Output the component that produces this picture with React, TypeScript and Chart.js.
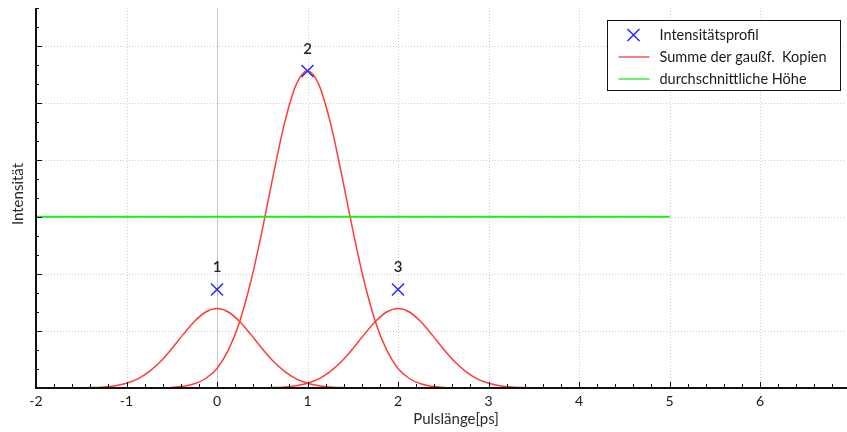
import { useEffect, useRef } from 'react';
import { Chart, registerables } from 'chart.js';
Chart.register(...registerables);

const xTickValues = [-2, -1, 0, 1, 2, 3, 4, 5, 6];
const yMajorValues = [0, 3, 6, 9, 12, 15, 18];
const profileX = [0, 1, 2];
const profileY = [5.18, 16.68, 5.18];
const profileNames = ['1', '2', '3'];
const pulseCenters = [0, 1, 2];
const pulseOffsets = [-1.75, -1.625, -1.5, -1.375, -1.25, -1.125, -1, -0.875, -0.75, -0.625, -0.5, -0.375, -0.25, -0.125, 0,
  0.125, 0.25, 0.375, 0.5, 0.625, 0.75, 0.875, 1, 1.125, 1.25, 1.375, 1.5, 1.625, 1.75];
const pulse1Y = [0, 0, 0.01, 0.02, 0.05, 0.12, 0.25, 0.48, 0.86, 1.39, 2.07, 2.81, 3.5, 4.0, 4.18,
  4.0, 3.5, 2.81, 2.07, 1.39, 0.86, 0.48, 0.25, 0.12, 0.05, 0.02, 0.01, 0, 0];
const pulse2Y = [0, 0.01, 0.03, 0.09, 0.22, 0.5, 1.03, 1.99, 3.49, 5.63, 8.32, 11.28, 14.02, 15.97, 16.68,
  15.97, 14.02, 11.28, 8.32, 5.63, 3.49, 1.99, 1.03, 0.5, 0.22, 0.09, 0.03, 0.01, 0];
const pulse3Y = [0, 0, 0.01, 0.02, 0.05, 0.12, 0.25, 0.48, 0.86, 1.39, 2.07, 2.81, 3.5, 4.0, 4.18,
  4.0, 3.5, 2.81, 2.07, 1.39, 0.86, 0.48, 0.25, 0.12, 0.05, 0.02, 0.01, 0, 0];
const averageX = [-2, 5];
const averageY = [9.01, 9.01];
const legendLabels = ['Intensitätsprofil', 'Summe der gaußf.  Kopien', 'durchschnittliche Höhe'];
const xAxisTitle = 'Pulslänge[ps]';
const yAxisTitle = 'Intensität';

const FONT = 'Lato, "Open Sans", sans-serif';
const BLUE = 'rgb(40,40,255)';
const RED = 'rgb(255,60,60)';
const GREEN = 'rgb(30,235,30)';

const decor = {
  id: 'decor',
  beforeDatasetsDraw(chart: any) {
    const { ctx, chartArea: a, scales } = chart;
    const x = scales.x, y = scales.y;
    ctx.save();
    ctx.lineWidth = 1;
    ctx.strokeStyle = '#cdcdcd';
    ctx.setLineDash([1, 2]);
    for (const v of xTickValues) {
      if (v === -2 || v === 0) continue;
      const px = Math.round(x.getPixelForValue(v)) + 0.5;
      ctx.beginPath(); ctx.moveTo(px, a.top); ctx.lineTo(px, a.bottom); ctx.stroke();
    }
    for (const v of yMajorValues) {
      if (v === 0) continue;
      const py = Math.round(y.getPixelForValue(v)) + 0.5;
      ctx.beginPath(); ctx.moveTo(a.left, py); ctx.lineTo(a.right, py); ctx.stroke();
    }
    ctx.setLineDash([]);
    ctx.strokeStyle = '#c6c6c6';
    const zx = Math.round(x.getPixelForValue(0)) + 0.5;
    ctx.beginPath(); ctx.moveTo(zx, a.top); ctx.lineTo(zx, a.bottom); ctx.stroke();
    ctx.restore();
  },
  afterDatasetsDraw(chart: any) {
    const { ctx, chartArea: a, scales } = chart;
    const x = scales.x, y = scales.y;
    ctx.save();
    // axes
    ctx.strokeStyle = '#111';
    ctx.lineWidth = 2;
    ctx.beginPath();
    ctx.moveTo(a.left, a.top); ctx.lineTo(a.left, a.bottom); ctx.lineTo(a.right + 1, a.bottom);
    ctx.stroke();
    // ticks
    ctx.lineWidth = 1;
    for (let i = 0; ; i++) {
      const v = x.min + i * 0.2;
      if (v > x.max + 1e-6) break;
      const major = i % 5 === 0;
      const px = Math.round(x.getPixelForValue(v)) + 0.5;
      ctx.beginPath(); ctx.moveTo(px, a.bottom); ctx.lineTo(px, a.bottom - (major ? 6 : 4)); ctx.stroke();
    }
    for (let v = y.min; v <= y.max; v++) {
      const major = v % 3 === 0;
      const py = Math.round(y.getPixelForValue(v)) + 0.5;
      ctx.beginPath(); ctx.moveTo(a.left, py); ctx.lineTo(a.left + (major ? 6 : 3), py); ctx.stroke();
    }
    // x tick labels
    ctx.fillStyle = '#1a1a1a';
    ctx.font = `14px ${FONT}`;
    ctx.textAlign = 'center';
    ctx.textBaseline = 'middle';
    for (const v of xTickValues) ctx.fillText(String(v), x.getPixelForValue(v), a.bottom + 13);
    // point labels
    ctx.fillStyle = '#222';
    ctx.font = `600 15px ${FONT}`;
    profileX.forEach((v, i) => {
      ctx.fillText(profileNames[i], x.getPixelForValue(v), y.getPixelForValue(profileY[i]) - 22);
    });
    // legend
    const bx = Math.round(a.right - 239) + 0.5, by = Math.round(a.top + 12) + 0.5, bw = 233, bh = 70;
    ctx.fillStyle = '#fff';
    ctx.fillRect(bx, by, bw, bh);
    ctx.strokeStyle = '#111';
    ctx.lineWidth = 1;
    ctx.strokeRect(bx, by, bw, bh);
    const rows = [by + 14.5, by + 36.5, by + 58.5];
    ctx.strokeStyle = BLUE; ctx.lineWidth = 1.5;
    const mx = bx + 26, my = rows[0];
    ctx.beginPath();
    ctx.moveTo(mx - 6, my - 6); ctx.lineTo(mx + 6, my + 6);
    ctx.moveTo(mx + 6, my - 6); ctx.lineTo(mx - 6, my + 6);
    ctx.stroke();
    ctx.lineWidth = 1.3;
    ctx.strokeStyle = RED;
    ctx.beginPath(); ctx.moveTo(bx + 11, rows[1]); ctx.lineTo(bx + 42, rows[1]); ctx.stroke();
    ctx.strokeStyle = GREEN;
    ctx.beginPath(); ctx.moveTo(bx + 11, rows[2]); ctx.lineTo(bx + 42, rows[2]); ctx.stroke();
    ctx.fillStyle = '#1a1a1a';
    ctx.font = `14.5px ${FONT}`;
    ctx.textAlign = 'left';
    legendLabels.forEach((t, i) => ctx.fillText(t, bx + 52, rows[i]));
    // titles
    ctx.fillStyle = '#2a2a2a';
    ctx.font = `15px ${FONT}`;
    ctx.textAlign = 'center';
    ctx.fillText(xAxisTitle, (a.left + a.right) / 2 + 15, a.bottom + 31);
    ctx.translate(18, (a.top + a.bottom) / 2 - 4);
    ctx.rotate(-Math.PI / 2);
    ctx.fillText(yAxisTitle, 0, 0);
    ctx.restore();
  },
};

export default function App() {
  const ref = useRef<HTMLCanvasElement>(null);
  useEffect(() => {
    if (!ref.current) return;
    const pulseData = (ys: number[], c: number) => pulseOffsets.map((o, i) => ({ x: c + o, y: ys[i] }));
    const pulseStyle = {
      borderColor: RED, borderWidth: 1.5, pointRadius: 0, fill: false,
      cubicInterpolationMode: 'monotone' as const, showLine: true,
    };
    const chart = new Chart(ref.current, {
      type: 'scatter',
      data: {
        datasets: [
          {
            label: legendLabels[0],
            data: profileX.map((v, i) => ({ x: v, y: profileY[i] })),
            pointStyle: 'crossRot', pointRadius: 8.5, borderColor: BLUE, backgroundColor: BLUE,
            pointBorderWidth: 1.5, showLine: false, order: 0,
          },
          { label: legendLabels[1], data: pulseData(pulse1Y, pulseCenters[0]), ...pulseStyle, order: 2 },
          { label: legendLabels[1], data: pulseData(pulse2Y, pulseCenters[1]), ...pulseStyle, order: 2 },
          { label: legendLabels[1], data: pulseData(pulse3Y, pulseCenters[2]), ...pulseStyle, order: 2 },
          {
            label: legendLabels[2],
            data: averageX.map((v, i) => ({ x: v, y: averageY[i] })),
            borderColor: GREEN, borderWidth: 2, pointRadius: 0, showLine: true, order: 1,
          },
        ],
      },
      options: {
        responsive: false,
        animation: false,
        layout: { autoPadding: false, padding: { top: 8, right: 1, left: 0, bottom: 0 } },
        plugins: { legend: { display: false }, tooltip: { enabled: false } },
        scales: {
          x: {
            type: 'linear', min: -2, max: 6.95,
            afterBuildTicks: (s: any) => { s.ticks = xTickValues.map((v) => ({ value: v })); },
            afterFit: (s: any) => { s.height = 44; },
            grid: { display: false, drawTicks: false },
            border: { display: false },
            ticks: { display: false },
          },
          y: {
            type: 'linear', min: 0, max: 20,
            afterFit: (s: any) => { s.width = 36; },
            grid: { display: false, drawTicks: false },
            border: { display: false },
            ticks: { display: false },
          },
        },
      },
      plugins: [decor],
    });
    return () => chart.destroy();
  }, []);
  return (
    <div style={{ position: 'fixed', left: 0, top: 0, width: 847, height: 432, background: '#fff' }}>
      <canvas ref={ref} width={847} height={432} />
    </div>
  );
}
